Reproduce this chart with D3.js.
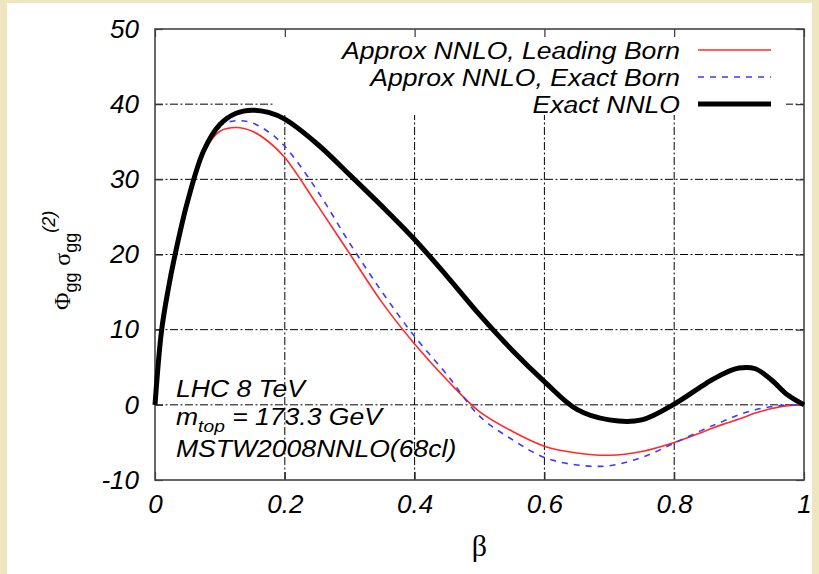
<!DOCTYPE html>
<html lang="en">
<head>
<meta charset="UTF-8">
<title>Phi_gg sigma_gg(2)</title>
<script src="https://d3js.org/d3.v7.min.js"></script>
<style>
  body { margin: 0; background: #efe6c0; }
  svg { display: block; }
  svg text { font-family: "Liberation Sans", Arial, sans-serif; fill: #000; }
</style>
</head>
<body>
<svg width="819" height="574"></svg>
<script>
// beta grid shared by the three curves
const beta = [0, 0.01, 0.02, 0.03, 0.05, 0.075, 0.1, 0.125, 0.15, 0.175, 0.2, 0.25, 0.3, 0.35, 0.4,
              0.45, 0.5, 0.55, 0.6, 0.65, 0.7, 0.75, 0.8, 0.85, 0.875, 0.9, 0.925, 0.95, 0.975, 1];

const leadingBorn = [0, 9.8, 15.2, 19.6, 27.0, 33.6, 36.4, 36.9, 36.4, 35.0, 32.9, 26.6, 20.1, 13.6, 8.1,
                     3.3, -0.9, -3.5, -5.5, -6.4, -6.7, -6.2, -5.0, -3.4, -2.6, -1.9, -1.1, -0.5, -0.1, 0];

const exactBorn = [0, 9.8, 15.2, 19.6, 27.0, 33.7, 37.1, 37.8, 37.5, 36.3, 34.4, 28.5, 21.5, 15.0, 9.1,
                   4.0, -1.5, -4.6, -7.0, -8.0, -8.1, -7.0, -5.1, -3.1, -2.2, -1.3, -0.65, -0.25, -0.05, 0];

const exactNNLO = [0, 9.8, 15.2, 19.6, 27.0, 33.8, 37.3, 38.8, 39.2, 38.9, 38.0, 34.7, 30.6, 26.4, 22.0,
                   17.1, 12.0, 7.3, 3.1, -0.6, -2.0, -2.0, 0.1, 2.9, 4.1, 4.9, 4.8, 3.3, 1.3, 0];

const xTicks = [0, 0.2, 0.4, 0.6, 0.8, 1];
const yTicks = [-10, 0, 10, 20, 30, 40, 50];
const xGrid = [0.2, 0.4, 0.6, 0.8];
const yGrid = [0, 10, 20, 30, 40];

const seriesNames = ["Approx NNLO, Leading Born", "Approx NNLO, Exact Born", "Exact NNLO"];

const width = 819, height = 574;
const margin = {top: 29, right: 15, bottom: 94, left: 155};
const stretch = 1.13; // the text in the picture is a bit wider than the font

const svg = d3.select("svg");

// white page on the beige background
svg.append("rect")
    .attr("x", 7).attr("y", 3)
    .attr("width", 805).attr("height", 571)
    .attr("fill", "#fff");

const x = d3.scaleLinear().domain([0, 1]).range([margin.left, width - margin.right]);
const y = d3.scaleLinear().domain([-10, 50]).range([height - margin.bottom, margin.top]);

// grid
const grid = svg.append("g")
    .attr("stroke", "#000")
    .attr("stroke-width", 1)
    .attr("stroke-dasharray", "8,2.5,2,2.5");
grid.selectAll(".gx").data(xGrid).join("line")
    .attr("x1", d => x(d)).attr("x2", d => x(d))
    .attr("y1", y(-10)).attr("y2", y(50));
grid.selectAll(".gy").data(yGrid).join("line")
    .attr("x1", x(0)).attr("x2", x(1))
    .attr("y1", d => y(d)).attr("y2", d => y(d));

// opaque key box
const keyBox = {x0: 275, x1: 786, y1: 115};
svg.append("rect")
    .attr("x", keyBox.x0).attr("y", y(50))
    .attr("width", keyBox.x1 - keyBox.x0).attr("height", keyBox.y1 - y(50))
    .attr("fill", "#fff");

// axes, ticks inward on all four sides
const tickLen = 8;
const fmt = d => String(d);
svg.append("g")
    .attr("transform", `translate(0,${y(-10)})`)
    .call(d3.axisBottom(x).tickValues(xTicks).tickSize(-tickLen).tickPadding(14).tickFormat(fmt))
    .call(g => g.select(".domain").remove())
    .call(g => g.selectAll("text").attr("font-size", 26).attr("font-style", "italic")
        .attr("font-family", "Liberation Sans, Arial, sans-serif").attr("dy", "0.72em"));
svg.append("g")
    .attr("transform", `translate(0,${y(50)})`)
    .call(d3.axisTop(x).tickValues(xTicks).tickSize(-tickLen).tickFormat(""))
    .call(g => g.select(".domain").remove());
svg.append("g")
    .attr("transform", `translate(${x(0)},0)`)
    .call(d3.axisLeft(y).tickValues(yTicks).tickSize(-tickLen).tickPadding(16).tickFormat(fmt))
    .call(g => g.select(".domain").remove())
    .call(g => g.selectAll("text").attr("font-size", 26).attr("font-style", "italic")
        .attr("font-family", "Liberation Sans, Arial, sans-serif"));
svg.append("g")
    .attr("transform", `translate(${x(1)},0)`)
    .call(d3.axisRight(y).tickValues(yTicks).tickSize(-tickLen).tickFormat(""))
    .call(g => g.select(".domain").remove());
svg.selectAll(".tick line").attr("stroke", "#333").attr("stroke-width", 1.2);

// border
svg.append("rect")
    .attr("x", x(0)).attr("y", y(50))
    .attr("width", x(1) - x(0)).attr("height", y(-10) - y(50))
    .attr("fill", "none").attr("stroke", "#444").attr("stroke-width", 1.6);

// curves
const series = [
    {name: seriesNames[0], values: leadingBorn, color: "#ff2a2a", width: 1.6, dash: null},
    {name: seriesNames[1], values: exactBorn, color: "#3a3aff", width: 1.6, dash: "6,6"},
    {name: seriesNames[2], values: exactNNLO, color: "#000", width: 5, dash: null}
];

const line = d3.line()
    .x((d, i) => x(beta[i]))
    .y(d => y(d))
    .curve(d3.curveCatmullRom.alpha(0.5));

svg.append("g").selectAll("path").data(series).join("path")
    .attr("d", s => line(s.values))
    .attr("fill", "none")
    .attr("stroke", s => s.color)
    .attr("stroke-width", s => s.width)
    .attr("stroke-dasharray", s => s.dash)
    .attr("stroke-linejoin", "round");

// key
const key = svg.append("g");
series.forEach((s, i) => {
    const ly = 50 + i * 27;
    key.append("line")
        .attr("x1", 698).attr("x2", 771).attr("y1", ly).attr("y2", ly)
        .attr("stroke", s.color).attr("stroke-width", s.width)
        .attr("stroke-dasharray", s.dash);
    key.append("text")
        .attr("transform", `translate(680,${ly + 8.5}) scale(${stretch},1)`)
        .attr("text-anchor", "end")
        .attr("font-size", 23.5).attr("font-style", "italic")
        .text(s.name);
});

// info text
const info = svg.append("g").attr("font-size", 23.5).attr("font-style", "italic");
info.append("text")
    .attr("transform", `translate(176,397) scale(${stretch},1)`)
    .text("LHC 8 TeV");
const mt = info.append("text")
    .attr("transform", `translate(176,425) scale(${stretch},1)`);
mt.append("tspan").text("m");
mt.append("tspan").attr("dy", 7).attr("font-size", 17).text("top");
mt.append("tspan").attr("dy", -7).text(" = 173.3 GeV");
info.append("text")
    .attr("transform", `translate(176,457) scale(${stretch},1)`)
    .text("MSTW2008NNLO(68cl)");

// axis titles
svg.append("text")
    .attr("x", x(0.5)).attr("y", 556)
    .attr("text-anchor", "middle")
    .attr("font-size", 30)
    .style("font-family", "Liberation Serif, serif")
    .text("β");

const yt = svg.append("text")
    .attr("transform", "translate(70,310) rotate(-90)")
    .attr("font-size", 24);
yt.append("tspan").style("font-family", "Liberation Serif, serif").text("Φ");
yt.append("tspan").attr("dy", 7).attr("font-size", 18).text("gg");
yt.append("tspan").attr("dy", -7).text(" ");
yt.append("tspan").style("font-family", "Liberation Serif, serif").text("σ");
yt.append("tspan").attr("dy", 7).attr("font-size", 18).text("gg");
yt.append("tspan").attr("dy", -22).attr("font-size", 18).attr("font-style", "italic").text("(2)");
</script>
</body>
</html>
